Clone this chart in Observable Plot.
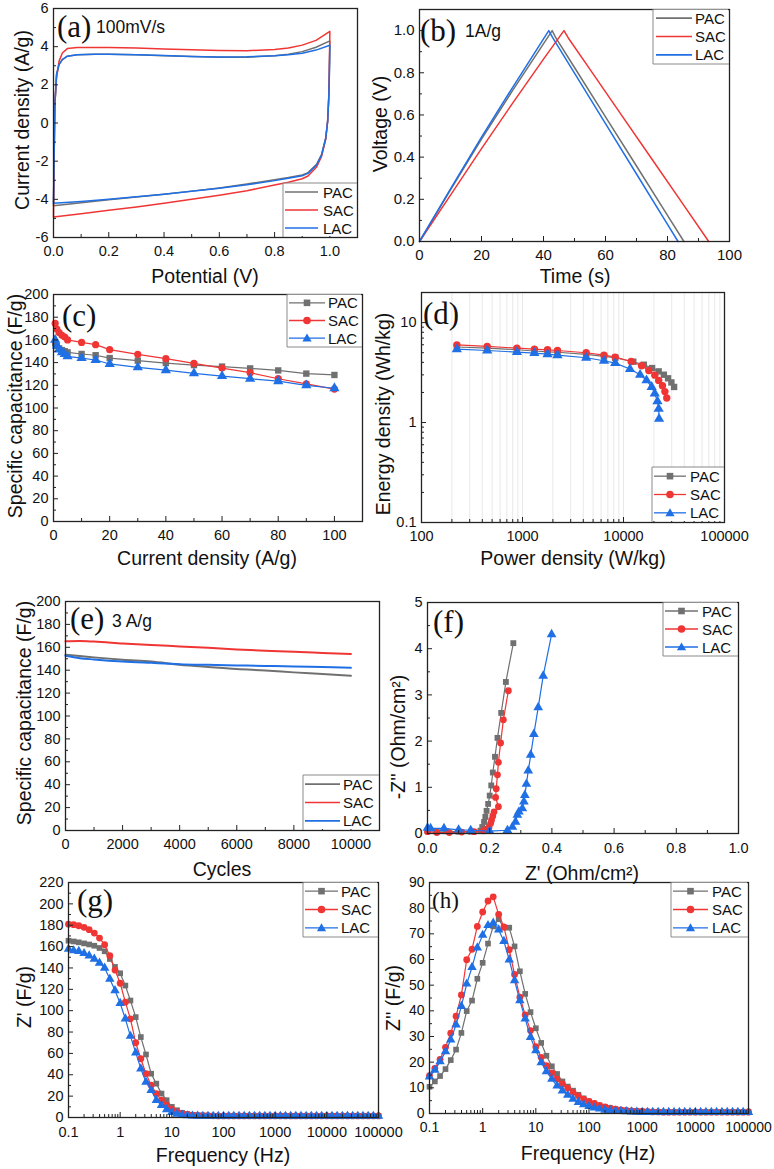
<!DOCTYPE html>
<html><head><meta charset="utf-8">
<script src="https://cdn.jsdelivr.net/npm/d3@7"></script>
<script src="https://cdn.jsdelivr.net/npm/@observablehq/plot@0.6"></script>
<style>
body{margin:0;background:#fff;}
#fig{position:relative;width:774px;height:1169px;overflow:hidden;background:#fff;}
</style></head><body><div id="fig"></div>
<script>
// ---------- DATA ----------
const seriesNames = ["PAC", "SAC", "LAC"];
// (a) CV at 100 mV/s
const cvUpV   = [0, 0.002, 0.005, 0.011, 0.02, 0.032, 0.05, 0.086, 0.15, 0.2, 0.3, 0.4, 0.5, 0.6, 0.7, 0.8, 0.85, 0.9, 0.95, 1.0];
const cvUpPAC = [-4.33, -2.0, 0.97, 2.54, 3.06, 3.32, 3.5, 3.58, 3.6, 3.6, 3.57, 3.53, 3.48, 3.45, 3.45, 3.52, 3.6, 3.74, 3.97, 4.3];
const cvUpSAC = [-4.93, -2.0, 1.0, 2.36, 3.23, 3.67, 3.9, 3.96, 3.96, 3.95, 3.93, 3.88, 3.84, 3.8, 3.79, 3.85, 3.93, 4.08, 4.33, 4.8];
const cvUpLAC = [-4.2, -2.0, 0.97, 2.54, 3.06, 3.32, 3.5, 3.58, 3.6, 3.6, 3.58, 3.54, 3.49, 3.46, 3.47, 3.52, 3.58, 3.66, 3.82, 4.07];
const cvLoV   = [1.0, 0.998, 0.996, 0.992, 0.985, 0.97, 0.952, 0.921, 0.9, 0.85, 0.8, 0.7, 0.6, 0.5, 0.4, 0.3, 0.2, 0.1, 0.0];
const cvLoPAC = [4.3, 2.5, 1.3, 0.1, -0.8, -1.65, -2.17, -2.6, -2.72, -2.86, -2.97, -3.2, -3.4, -3.57, -3.73, -3.88, -4.02, -4.18, -4.33];
const cvLoSAC = [4.8, 2.8, 1.4, 0.1, -0.85, -1.75, -2.3, -2.78, -2.92, -3.1, -3.25, -3.55, -3.78, -4.0, -4.2, -4.4, -4.57, -4.75, -4.93];
const cvLoLAC = [4.07, 2.4, 1.3, 0.1, -0.8, -1.67, -2.2, -2.64, -2.77, -2.9, -3.02, -3.24, -3.42, -3.58, -3.73, -3.87, -3.99, -4.11, -4.2];
// (b) GCD at 1 A/g
const gcdT_PAC = [0, 10, 20, 30, 42.8, 44, 50, 60, 70, 80, 85.3];
const gcdV_PAC = [0, 0.245, 0.485, 0.715, 1.0, 0.965, 0.825, 0.591, 0.358, 0.124, 0];
const gcdT_SAC = [0, 10, 20, 30, 40, 46.6, 48, 55, 65, 75, 85, 93.3];
const gcdV_SAC = [0, 0.22, 0.44, 0.655, 0.865, 1.0, 0.965, 0.816, 0.603, 0.39, 0.177, 0];
const gcdT_LAC = [0, 10, 20, 30, 41.7, 43, 50, 60, 70, 80, 83.4];
const gcdV_LAC = [0, 0.25, 0.495, 0.73, 1.0, 0.965, 0.798, 0.559, 0.32, 0.081, 0];
// (c) rate capability
const rateI   = [0.6, 1.2, 2, 3, 4, 5, 10, 15, 20, 30, 40, 50, 60, 70, 80, 90, 100];
const ratePAC = [157, 154.5, 152.5, 151, 150, 149, 147.6, 146.5, 144, 141.7, 139.6, 137.8, 136.5, 134.9, 133.1, 130.3, 129.1];
const rateSAC = [174.5, 169.5, 166.5, 164, 162.5, 160, 157.8, 155.8, 151.4, 147.3, 143.5, 139.3, 135.2, 131.1, 125.8, 121.3, 116.7];
const rateLAC = [160, 155, 151.5, 149, 147.5, 145.5, 144, 142.3, 138.8, 135.8, 133.3, 130.5, 128.1, 125.8, 123.6, 120, 117.4];
// (d) Ragone
const ragP_PAC = [224, 447, 880, 1312, 1770, 2220, 4270, 6410, 8280, 12500, 15900, 19200, 22300, 25100, 27600, 29800, 31700];
const ragE_PAC = [5.7, 5.55, 5.35, 5.2, 5.1, 5.05, 4.8, 4.6, 4.45, 4.06, 3.79, 3.51, 3.25, 3.01, 2.77, 2.52, 2.27];
const ragP_SAC = [224, 447, 880, 1312, 1770, 2220, 4270, 6410, 8280, 11900, 15100, 17800, 20400, 22300, 24300, 25700, 26800];
const ragE_SAC = [5.99, 5.77, 5.55, 5.43, 5.34, 5.26, 4.99, 4.72, 4.51, 4.08, 3.70, 3.32, 2.98, 2.64, 2.34, 2.04, 1.76];
const ragP_LAC = [224, 447, 880, 1312, 1770, 2220, 4270, 6410, 8280, 11600, 14600, 16900, 19000, 20400, 21700, 22300, 22500];
const ragE_LAC = [5.42, 5.26, 5.06, 4.95, 4.83, 4.72, 4.45, 4.15, 3.93, 3.43, 3.0, 2.64, 2.27, 1.95, 1.63, 1.37, 1.09];
// (e) cycling at 3 A/g
const cycN   = [0, 500, 1000, 2000, 3000, 4000, 5000, 6000, 7000, 8000, 9000, 10000];
const cycPAC = [153.5, 152.4, 151.2, 149.1, 147.5, 144.8, 142.8, 141.0, 139.7, 138.1, 136.7, 135.2];
const cycSAC = [165.2, 165.5, 165, 163.4, 162, 160.8, 159.5, 158.1, 157, 156.1, 155.1, 154.1];
const cycLAC = [152.6, 150.5, 149.4, 147.6, 146.4, 145.3, 144.7, 144.2, 143.7, 143.3, 142.7, 142.2];
// (f) Nyquist
const nyX_PAC = [0.0, 0.03, 0.06, 0.1, 0.14, 0.17, 0.176, 0.182, 0.186, 0.19, 0.195, 0.2, 0.205, 0.21, 0.217, 0.225, 0.237, 0.252, 0.276];
const nyY_PAC = [0.06, 0.05, 0.05, 0.04, 0.04, 0.06, 0.14, 0.25, 0.36, 0.49, 0.64, 0.82, 1.04, 1.32, 1.66, 2.07, 2.61, 3.28, 4.12];
const nyX_SAC = [0.0, 0.03, 0.07, 0.11, 0.15, 0.18, 0.192, 0.198, 0.203, 0.206, 0.21, 0.214, 0.228, 0.219, 0.221, 0.225, 0.228, 0.235, 0.244, 0.26];
const nyY_SAC = [0.04, 0.02, 0.02, 0.03, 0.04, 0.06, 0.1, 0.14, 0.22, 0.29, 0.38, 0.47, 0.58, 0.78, 0.97, 1.27, 1.54, 1.96, 2.46, 3.09];
const nyX_LAC = [0.0, 0.01, 0.053, 0.1, 0.139, 0.2, 0.257, 0.273, 0.283, 0.289, 0.294, 0.305, 0.31, 0.313, 0.318, 0.324, 0.332, 0.342, 0.356, 0.372, 0.399];
const nyY_LAC = [0.12, 0.11, 0.11, 0.08, 0.07, 0.05, 0.07, 0.14, 0.25, 0.4, 0.47, 0.54, 0.69, 0.83, 1.07, 1.36, 1.70, 2.15, 2.73, 3.41, 4.31];
// (g),(h) frequency response
const freq = [0.1, 0.126, 0.158, 0.2, 0.251, 0.316, 0.398, 0.501, 0.631, 0.794,
  1, 1.26, 1.58, 2, 2.51, 3.16, 3.98, 5.01, 6.31, 7.94,
  10, 12.6, 15.8, 20, 25.1, 31.6, 39.8, 50.1, 63.1, 79.4,
  100, 126, 158, 200, 251, 316, 398, 501, 631, 794,
  1000, 1260, 1580, 2000, 2510, 3160, 3980, 5010, 6310, 7940,
  10000, 12600, 15800, 20000, 25100, 31600, 39800, 50100, 63100, 79400, 100000];
const zReP = [165.5, 164.8, 164, 163, 162, 160.8, 158.7, 155.6, 148.4, 141,
  135, 123.5, 109.5, 94, 75.3, 59, 41, 31.7, 22.4, 16.2,
  10, 6.8, 4.4, 3.2, 2.5, 2.1, 1.9, 1.7, 1.6, 1.5,
  1.5, 1.5, 1.5, 1.5, 1.5, 1.5, 1.5, 1.5, 1.5, 1.5,
  1.5, 1.5, 1.5, 1.5, 1.5, 1.5, 1.5, 1.5, 1.5, 1.5,
  1.5, 1.5, 1.5, 1.5, 1.5, 1.5, 1.5, 1.5, 1.5, 1.5, 1.5];
const zReS = [181, 180.5, 179.5, 178, 175.8, 172.7, 168, 161.8, 151.5, 138,
  125.7, 108, 92.4, 70, 55, 41, 30.2, 22.4, 16.2, 11.5,
  7.8, 5.3, 3.7, 2.8, 2.3, 2, 1.8, 1.7, 1.6, 1.5,
  1.5, 1.5, 1.5, 1.5, 1.5, 1.5, 1.5, 1.5, 1.5, 1.5,
  1.5, 1.5, 1.5, 1.5, 1.5, 1.5, 1.5, 1.5, 1.5, 1.5,
  1.5, 1.5, 1.5, 1.5, 1.5, 1.5, 1.5, 1.5, 1.5, 1.5, 1.5];
const zReL = [157.7, 156.2, 155.6, 153.7, 151.5, 148.4, 144.7, 140, 129.7, 118.9,
  107, 92.4, 76.2, 60.7, 45.7, 33.3, 25.5, 16.2, 11.5, 7.5,
  5, 3.3, 2.3, 1.8, 1.5, 1.4, 1.3, 1.3, 1.3, 1.3,
  1.3, 1.3, 1.3, 1.3, 1.3, 1.3, 1.3, 1.3, 1.3, 1.3,
  1.3, 1.3, 1.3, 1.3, 1.3, 1.3, 1.3, 1.3, 1.3, 1.3,
  1.3, 1.3, 1.3, 1.3, 1.3, 1.3, 1.3, 1.3, 1.3, 1.3, 1.3];
const zImP = [10.4, 12.5, 14.6, 17.3, 20.8, 24.9, 31.4, 39.9, 44, 52.5,
  58.7, 66.2, 72.9, 75.7, 72.4, 72.4, 65.1, 55.4, 46.6, 39.5,
  33.2, 27.5, 22.5, 18.4, 15.4, 12.5, 10.5, 8.9, 7.3, 5.9,
  4.7, 3.9, 3.1, 2.5, 2.0, 1.6, 1.3, 1.1, 1.0, 0.9,
  0.8, 0.7, 0.6, 0.6, 0.5, 0.5, 0.5, 0.5, 0.5, 0.5,
  0.5, 0.5, 0.5, 0.5, 0.5, 0.5, 0.5, 0.5, 0.5, 0.5, 0.7];
const zImS = [14.7, 17.6, 21.1, 25.8, 31.3, 37.9, 46.2, 59.9, 64, 72.9,
  78.5, 82.8, 84.4, 77.6, 72.7, 63.8, 54.2, 45.3, 38.4, 32.3,
  26, 21.9, 18.6, 15.8, 13.4, 11.5, 9.9, 8.2, 6.9, 5.6,
  4.7, 3.9, 3.2, 2.6, 2.1, 1.7, 1.4, 1.2, 1.0, 0.9,
  0.8, 0.7, 0.6, 0.6, 0.5, 0.5, 0.5, 0.5, 0.5, 0.5,
  0.5, 0.5, 0.5, 0.5, 0.5, 0.5, 0.5, 0.5, 0.5, 0.5, 0.5];
const zImL = [14.3, 16.9, 20.2, 24.1, 28.7, 34.6, 41.8, 50.5, 57, 64.6,
  69.5, 73.3, 74.2, 71.6, 67.1, 59.9, 51.8, 44, 36.9, 29.7,
  24.5, 19.9, 16.4, 13.4, 10.8, 8.9, 7.2, 5.6, 4.4, 3.5,
  2.8, 2.2, 1.8, 1.4, 1.2, 1.0, 0.9, 0.8, 0.7, 0.6,
  0.5, 0.5, 0.5, 0.5, 0.5, 0.5, 0.5, 0.5, 0.5, 0.5,
  0.5, 0.5, 0.5, 0.5, 0.5, 0.5, 0.5, 0.5, 0.5, 0.5, 0.5];

// tick labels
const ticksA_x = [0, 0.2, 0.4, 0.6, 0.8, 1.0], ticksA_y = [-6, -4, -2, 0, 2, 4, 6];
const ticksB_x = [0, 20, 40, 60, 80, 100], ticksB_y = [0, 0.2, 0.4, 0.6, 0.8, 1.0];
const ticksC_x = [0, 20, 40, 60, 80, 100], ticksC_y = [0, 20, 40, 60, 80, 100, 120, 140, 160, 180, 200];
const ticksD_x = [100, 1000, 10000, 100000], ticksD_y = [0.1, 1, 10];
const ticksE_x = [0, 2000, 4000, 6000, 8000, 10000], ticksE_y = ticksC_y;
const ticksF_x = [0, 0.2, 0.4, 0.6, 0.8, 1.0], ticksF_y = [0, 1, 2, 3, 4, 5];
const ticksG_x = [0.1, 1, 10, 100, 1000, 10000, 100000], ticksG_y = [0, 20, 40, 60, 80, 100, 120, 140, 160, 180, 200, 220];
const ticksH_x = ticksG_x, ticksH_y = [0, 10, 20, 30, 40, 50, 60, 70, 80, 90];

// ---------- STYLE ----------
const colors = {PAC: "#707070", SAC: "#f03535", LAC: "#1f6fe5"};
const symbols = {PAC: "square", SAC: "circle", LAC: "triangle"};
const FONT = '"Liberation Sans", Arial, Helvetica, sans-serif';
const SERIF = '"Liberation Serif", "Times New Roman", serif';
const zip = (xs, ys) => xs.map((x, i) => ({x, y: ys[i]}));
const mids = (arr) => arr.slice(0, -1).map((v, i) => (v + arr[i + 1]) / 2);
const logMinor = (lo, hi) => { const out = []; for (let d = lo; d < hi; d *= 10) for (let m = 2; m <= 9; m++) out.push(+(d * m).toPrecision(3)); return out; };
const fig = document.getElementById("fig");

function panel(box, xs, ys, marks, opt = {}) {
  const mL = 48, mR = 8, mT = 8, mB = 32;
  const W = box.r - box.l, H = box.b - box.t;
  const frameMarks = [
    Plot.tickX(xs.minor, {x: d => d, insetTop: H - 3, stroke: "#222"}),
    Plot.tickX(xs.major, {x: d => d, insetTop: H - 5, stroke: "#222"}),
    Plot.tickY(ys.minor, {y: d => d, insetRight: W - 3, stroke: "#222"}),
    Plot.tickY(ys.major, {y: d => d, insetRight: W - 5, stroke: "#222"}),
    Plot.axisX(xs.major, {tickSize: 0, tickPadding: opt.xpad || 6, tickFormat: xs.fmt, label: null}),
    Plot.axisY(ys.major, {tickSize: 0, tickPadding: 5, tickFormat: ys.fmt, label: null}),
    Plot.frame({stroke: "#222", strokeWidth: 1.3})
  ];
  const svg = Plot.plot({
    width: W + mL + mR, height: H + mT + mB,
    marginLeft: mL, marginRight: mR, marginTop: mT, marginBottom: mB,
    x: {type: xs.type || "linear", domain: xs.domain},
    y: {type: ys.type || "linear", domain: ys.domain},
    style: {fontFamily: FONT, fontSize: (opt.fs || 14.5) + "px", overflow: "visible", background: "transparent", color: "#111"},
    marks: [...(opt.under || []), ...marks, ...frameMarks]
  });
  svg.style.position = "absolute";
  svg.style.left = (box.l - mL) + "px";
  svg.style.top = (box.t - mT) + "px";
  fig.appendChild(svg);
}

const S = String;
const f1 = d3.format(".1f");

// (a)
panel({l: 53, r: 357, t: 8, b: 237},
  {domain: [0, 1.1], major: ticksA_x, minor: mids(ticksA_x), fmt: f1},
  {domain: [-6, 6], major: ticksA_y, minor: mids(ticksA_y), fmt: S},
  [
    Plot.line(zip(cvUpV.concat(cvLoV), cvUpPAC.concat(cvLoPAC)), {x: "x", y: "y", stroke: colors.PAC, strokeWidth: 1.5}),
    Plot.line(zip(cvUpV.concat(cvLoV), cvUpSAC.concat(cvLoSAC)), {x: "x", y: "y", stroke: colors.SAC, strokeWidth: 1.5}),
    Plot.line(zip(cvUpV.concat(cvLoV), cvUpLAC.concat(cvLoLAC)), {x: "x", y: "y", stroke: colors.LAC, strokeWidth: 1.5})
  ], {fs: 14.5, xpad: 8});

// (b)
panel({l: 419, r: 729, t: 9, b: 241},
  {domain: [0, 100], major: ticksB_x, minor: mids(ticksB_x), fmt: S},
  {domain: [0, 1.1], major: ticksB_y, minor: mids(ticksB_y), fmt: f1},
  [
    Plot.line(zip(gcdT_PAC, gcdV_PAC), {x: "x", y: "y", stroke: colors.PAC, strokeWidth: 1.5}),
    Plot.line(zip(gcdT_SAC, gcdV_SAC), {x: "x", y: "y", stroke: colors.SAC, strokeWidth: 1.5}),
    Plot.line(zip(gcdT_LAC, gcdV_LAC), {x: "x", y: "y", stroke: colors.LAC, strokeWidth: 1.5})
  ], {fs: 15, xpad: 8});

function lineDots(data, name, r, sw = 1.2) {
  return [
    Plot.line(data, {x: "x", y: "y", stroke: colors[name], strokeWidth: sw}),
    Plot.dot(data, {x: "x", y: "y", symbol: symbols[name], fill: colors[name], stroke: "none", r})
  ];
}

// (c)
panel({l: 53, r: 362, t: 294, b: 521},
  {domain: [0, 110], major: ticksC_x, minor: mids(ticksC_x), fmt: S},
  {domain: [0, 200], major: ticksC_y, minor: mids(ticksC_y), fmt: S},
  [
    ...lineDots(zip(rateI, ratePAC), "PAC", 3.6),
    ...lineDots(zip(rateI, rateSAC), "SAC", 3.6),
    ...lineDots(zip(rateI, rateLAC), "LAC", 3.8)
  ], {xpad: 8});

// (d)
const dMinorX = logMinor(100, 100000);
panel({l: 421, r: 724, t: 292, b: 522},
  {type: "log", domain: [100, 100000], major: ticksD_x, minor: dMinorX, fmt: S},
  {type: "log", domain: [0.1, 20], major: ticksD_y, minor: logMinor(0.1, 10).concat([20]), fmt: S},
  [
    ...lineDots(zip(ragP_PAC, ragE_PAC), "PAC", 3.6),
    ...lineDots(zip(ragP_SAC, ragE_SAC), "SAC", 3.7),
    ...lineDots(zip(ragP_LAC, ragE_LAC), "LAC", 3.8)
  ], {under: [Plot.ruleX(dMinorX.concat(ticksD_x), {stroke: "#e2e2e2", strokeWidth: 0.8})], xpad: 8});

// (e)
panel({l: 65, r: 379, t: 601, b: 830},
  {domain: [0, 11000], major: ticksE_x, minor: mids(ticksE_x), fmt: S},
  {domain: [0, 200], major: ticksE_y, minor: mids(ticksE_y), fmt: S},
  [
    Plot.line(zip(cycN, cycPAC), {x: "x", y: "y", stroke: colors.PAC, strokeWidth: 2, curve: "monotone-x"}),
    Plot.line(zip(cycN, cycSAC), {x: "x", y: "y", stroke: colors.SAC, strokeWidth: 2, curve: "monotone-x"}),
    Plot.line(zip(cycN, cycLAC), {x: "x", y: "y", stroke: colors.LAC, strokeWidth: 2, curve: "monotone-x"})
  ], {xpad: 8});

// (f)
panel({l: 427, r: 738, t: 602, b: 833},
  {domain: [0, 1], major: ticksF_x, minor: mids(ticksF_x), fmt: f1},
  {domain: [0, 5], major: ticksF_y, minor: mids(ticksF_y), fmt: S},
  [
    ...lineDots(zip(nyX_PAC, nyY_PAC), "PAC", 3.3),
    ...lineDots(zip(nyX_SAC, nyY_SAC), "SAC", 3.4),
    ...lineDots(zip(nyX_LAC, nyY_LAC), "LAC", 3.6)
  ], {xpad: 9});

// (g)
panel({l: 68, r: 378, t: 882, b: 1117},
  {type: "log", domain: [0.1, 100000], major: ticksG_x, minor: logMinor(0.1, 100000), fmt: S},
  {domain: [0, 220], major: ticksG_y, minor: mids(ticksG_y), fmt: S},
  [
    ...lineDots(zip(freq, zReP), "PAC", 3.2),
    ...lineDots(zip(freq, zReS), "SAC", 3.4),
    ...lineDots(zip(freq, zReL), "LAC", 3.5)
  ], {xpad: 9});

// (h)
panel({l: 429, r: 748, t: 882, b: 1113},
  {type: "log", domain: [0.1, 100000], major: ticksH_x, minor: logMinor(0.1, 100000), fmt: S},
  {domain: [0, 90], major: ticksH_y, minor: mids(ticksH_y), fmt: S},
  [
    ...lineDots(zip(freq, zImP), "PAC", 3.2),
    ...lineDots(zip(freq, zImS), "SAC", 3.4),
    ...lineDots(zip(freq, zImL), "LAC", 3.5)
  ], {fs: 14, xpad: 9});

// ---------- OVERLAY: legends, titles, panel labels ----------
function marker(name, cx, cy) {
  const c = colors[name];
  if (name === "PAC") return `<rect x="${cx - 3.3}" y="${cy - 3.3}" width="6.6" height="6.6" fill="${c}"/>`;
  if (name === "SAC") return `<circle cx="${cx}" cy="${cy}" r="3.8" fill="${c}"/>`;
  return `<path d="M${cx},${cy - 4.6} L${cx + 4.6},${cy + 3.3} L${cx - 4.6},${cy + 3.3}Z" fill="${c}"/>`;
}
function legend(L) {
  let s = `<rect x="${L.x + 0.5}" y="${L.y + 0.5}" width="${L.w - 1.5}" height="${L.h - 1.5}" fill="#fff"/>`;
  if (L.corner === "br") s += `<path d="M${L.x},${L.y + L.h} V${L.y} H${L.x + L.w}" fill="none" stroke="#8a8a8a" stroke-width="1"/>`;
  else s += `<path d="M${L.x},${L.y} V${L.y + L.h} H${L.x + L.w}" fill="none" stroke="#8a8a8a" stroke-width="1"/>`;
  seriesNames.forEach((n, i) => {
    const cy = L.y + L.h * (2 * i + 1) / 6;
    s += `<line x1="${L.l1}" x2="${L.l2}" y1="${cy}" y2="${cy}" stroke="${colors[n]}" stroke-width="${L.mk ? 1.3 : 1.6}"/>`;
    if (L.mk) s += marker(n, (L.l1 + L.l2) / 2, cy);
    s += `<text x="${L.tx}" y="${cy}" dominant-baseline="central" font-size="15" font-family='${FONT}' fill="#111">${n}</text>`;
  });
  return s;
}
const legends = [
  {x: 283, y: 183, w: 74, h: 54, l1: 285, l2: 318, tx: 323, mk: false, corner: "br"},
  {x: 653, y: 9, w: 76, h: 55, l1: 656, l2: 692, tx: 695, mk: false, corner: "tr"},
  {x: 287, y: 294, w: 75, h: 53, l1: 289, l2: 325, tx: 328, mk: true, corner: "tr"},
  {x: 652, y: 467, w: 72, h: 55, l1: 654, l2: 686, tx: 690, mk: true, corner: "br"},
  {x: 303, y: 775, w: 76, h: 55, l1: 305, l2: 340, tx: 343, mk: false, corner: "br"},
  {x: 663, y: 602, w: 75, h: 54, l1: 665, l2: 698, tx: 702, mk: true, corner: "tr"},
  {x: 303, y: 882, w: 75, h: 55, l1: 305, l2: 338, tx: 341, mk: true, corner: "tr"},
  {x: 671, y: 882, w: 77, h: 55, l1: 673, l2: 708, tx: 712, mk: true, corner: "tr"}
];
const titles = [
  [205, 276, "Potential (V)", 0], [22, 120, "Current density (A/g)", 1],
  [575, 276, "Time (s)", 0], [380, 124, "Voltage (V)", 1],
  [207, 558, "Current density (A/g)", 0], [15, 406, "Specific capacitance (F/g)", 1],
  [573, 558, "Power density (W/kg)", 0], [383, 414, "Energy density (Wh/kg)", 1],
  [222, 869, "Cycles", 0], [24, 713, "Specific capacitance (F/g)", 1],
  [582, 873, "Z' (Ohm/cm²)", 0], [398, 737, "-Z'' (Ohm/cm²)", 1],
  [223, 1155, "Frequency (Hz)", 0], [24, 997, "Z' (F/g)", 1],
  [588, 1153, "Frequency (Hz)", 0], [393, 998, "Z'' (F/g)", 1]
];
const labels = [
  [57, 37, "(a)", 31], [420, 41, "(b)", 31], [62, 326, "(c)", 31], [423, 324, "(d)", 31],
  [70, 629, "(e)", 31], [433, 632, "(f)", 31], [77, 911, "(g)", 31], [432, 908, "(h)", 23]
];
const notes = [[96, 33, "100mV/s"], [465, 37, "1A/g"], [112, 627, "3 A/g"]];

const esc = t => t.replace(/&/g, "&amp;").replace(/</g, "&lt;");
let ov = `<svg xmlns="http://www.w3.org/2000/svg" width="774" height="1169" style="position:absolute;left:0;top:0;pointer-events:none">`;
legends.forEach(L => ov += legend(L));
titles.forEach(([x, y, t, r]) => {
  ov += `<text transform="translate(${x},${y})${r ? " rotate(-90)" : ""}" text-anchor="middle" dominant-baseline="central" font-size="19.5" font-family='${FONT}' fill="#111">${esc(t)}</text>`;
});
labels.forEach(([x, y, t, fs]) => {
  ov += `<text x="${x}" y="${y}" font-size="${fs}" font-family='${SERIF}' fill="#111">${t}</text>`;
});
notes.forEach(([x, y, t]) => {
  ov += `<text x="${x}" y="${y}" font-size="17.5" font-family='${FONT}' fill="#111">${t}</text>`;
});
ov += `</svg>`;
fig.insertAdjacentHTML("beforeend", ov);
</script></body></html>
